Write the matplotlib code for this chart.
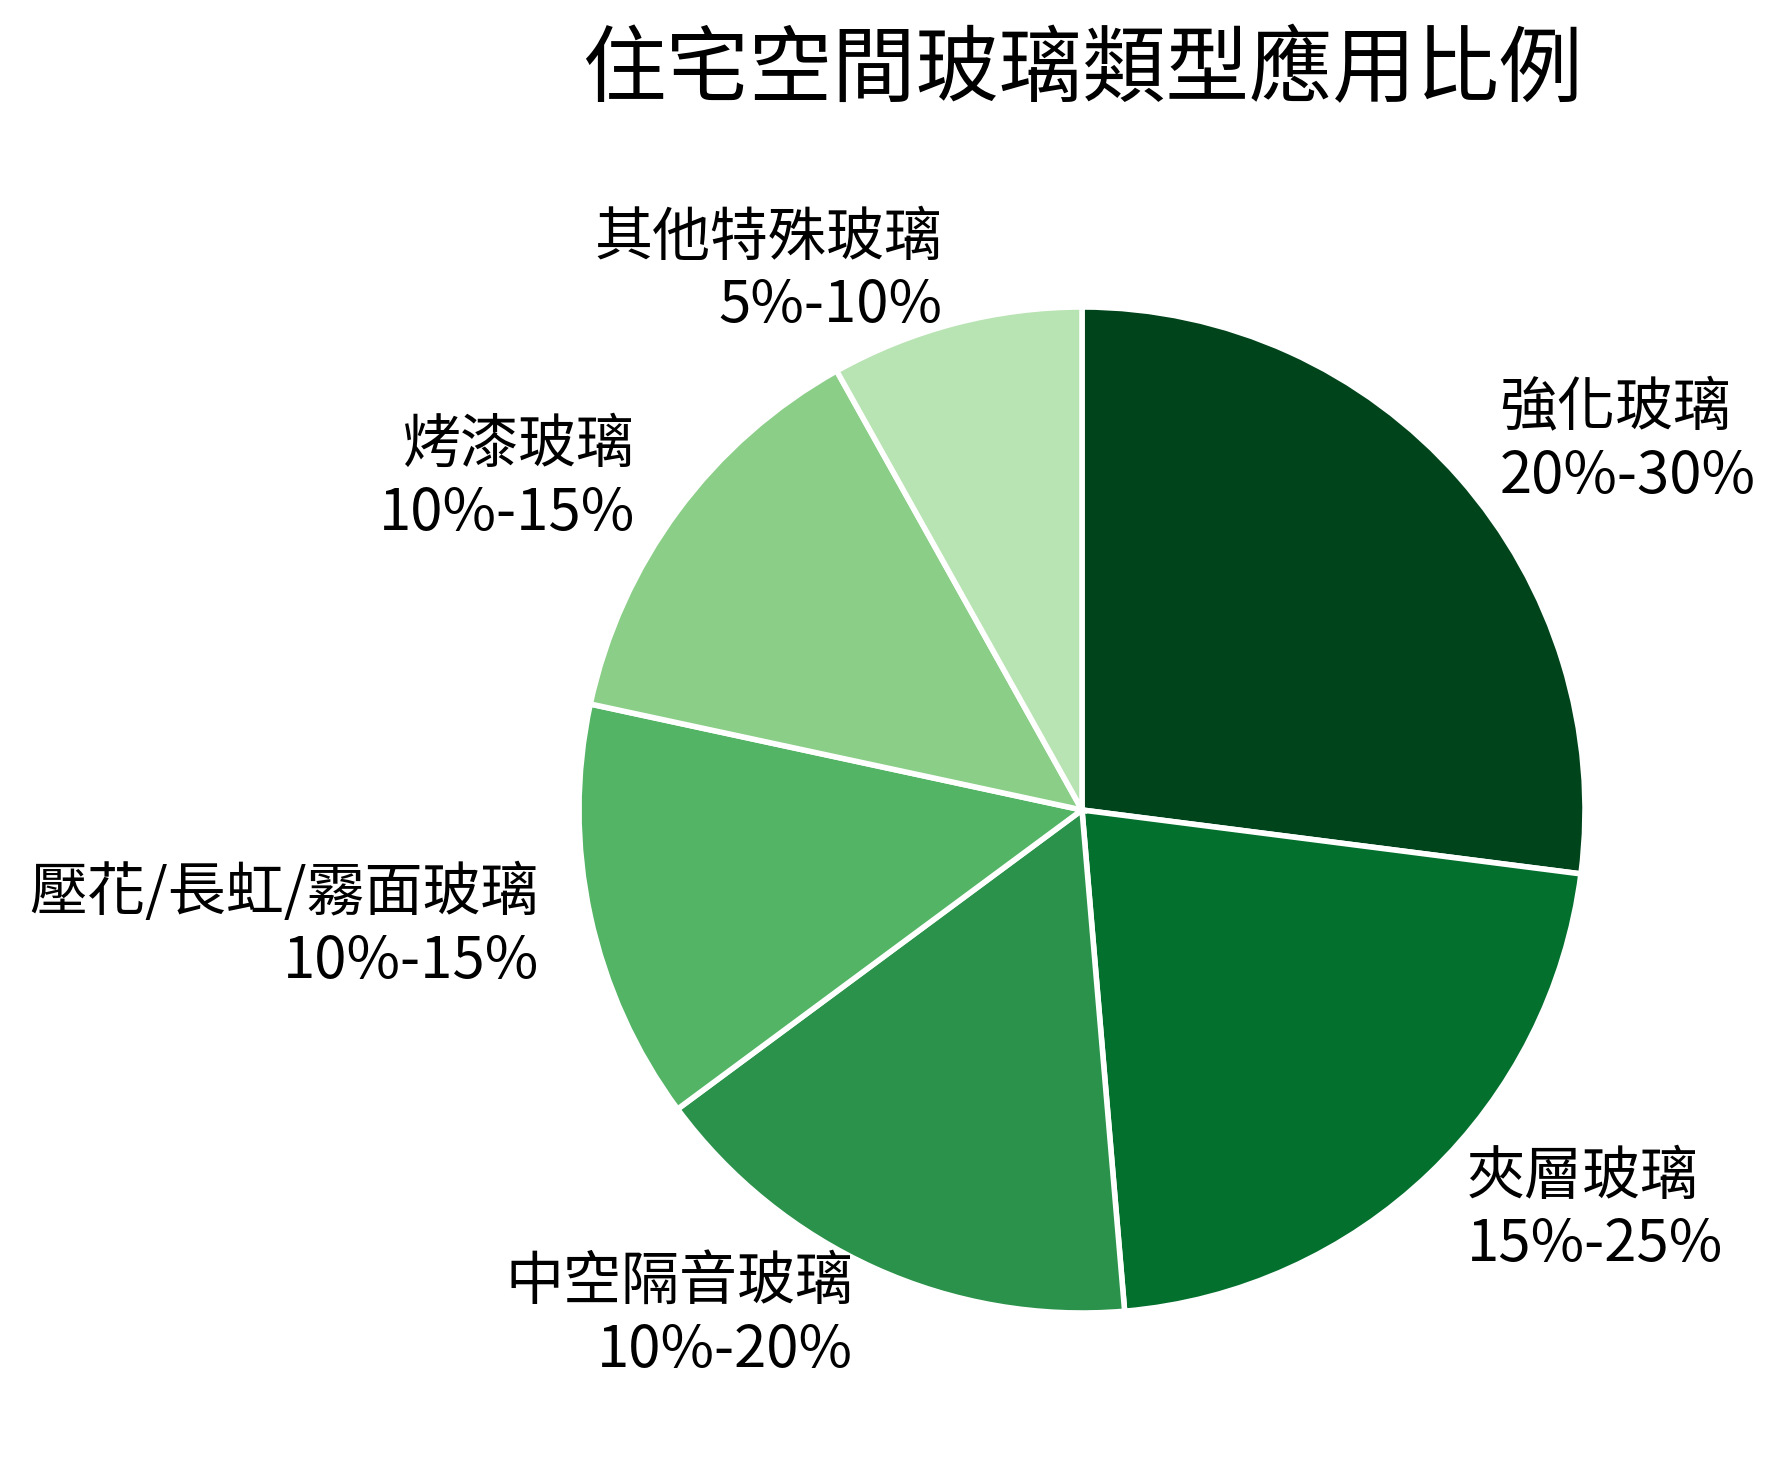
import numpy as np
import matplotlib
matplotlib.use("Agg")
import matplotlib.pyplot as plt

plt.rcParams['font.family'] = ['Noto Sans CJK TC', 'DejaVu Sans']

categories = ["強化玻璃", "夾層玻璃", "中空隔音玻璃", "壓花/長虹/霧面玻璃", "烤漆玻璃", "其他特殊玻璃"]
ranges = ["20%-30%", "15%-25%", "10%-20%", "10%-15%", "10%-15%", "5%-10%"]
values = [25, 20, 15, 12.5, 12.5, 7.5]
title = "住宅空間玻璃類型應用比例"

colors = plt.cm.Greens(np.linspace(1.0, 0.3, len(values)))
labels = [f"{c}\n{r}" for c, r in zip(categories, ranges)]

W, H = 1785, 1468
fig = plt.figure(figsize=(W / 100, H / 100), dpi=100)
cx, cy, R = 1082, 810, 503
side = 2.5 * R
ax = fig.add_axes([(cx - side / 2) / W, (H - cy - side / 2) / H, side / W, side / H])

wedges, texts = ax.pie(values, labels=labels, colors=colors, startangle=90, counterclock=False,
                       labeldistance=1.105,
                       wedgeprops=dict(edgecolor='white', linewidth=4),
                       textprops=dict(fontsize=41.8))
ax.set_aspect('equal')

fig.text(cx / W, 1 - 71 / H, title, fontsize=60, ha='center', va='center')

fig.savefig("out.png", dpi=100, facecolor='white')
